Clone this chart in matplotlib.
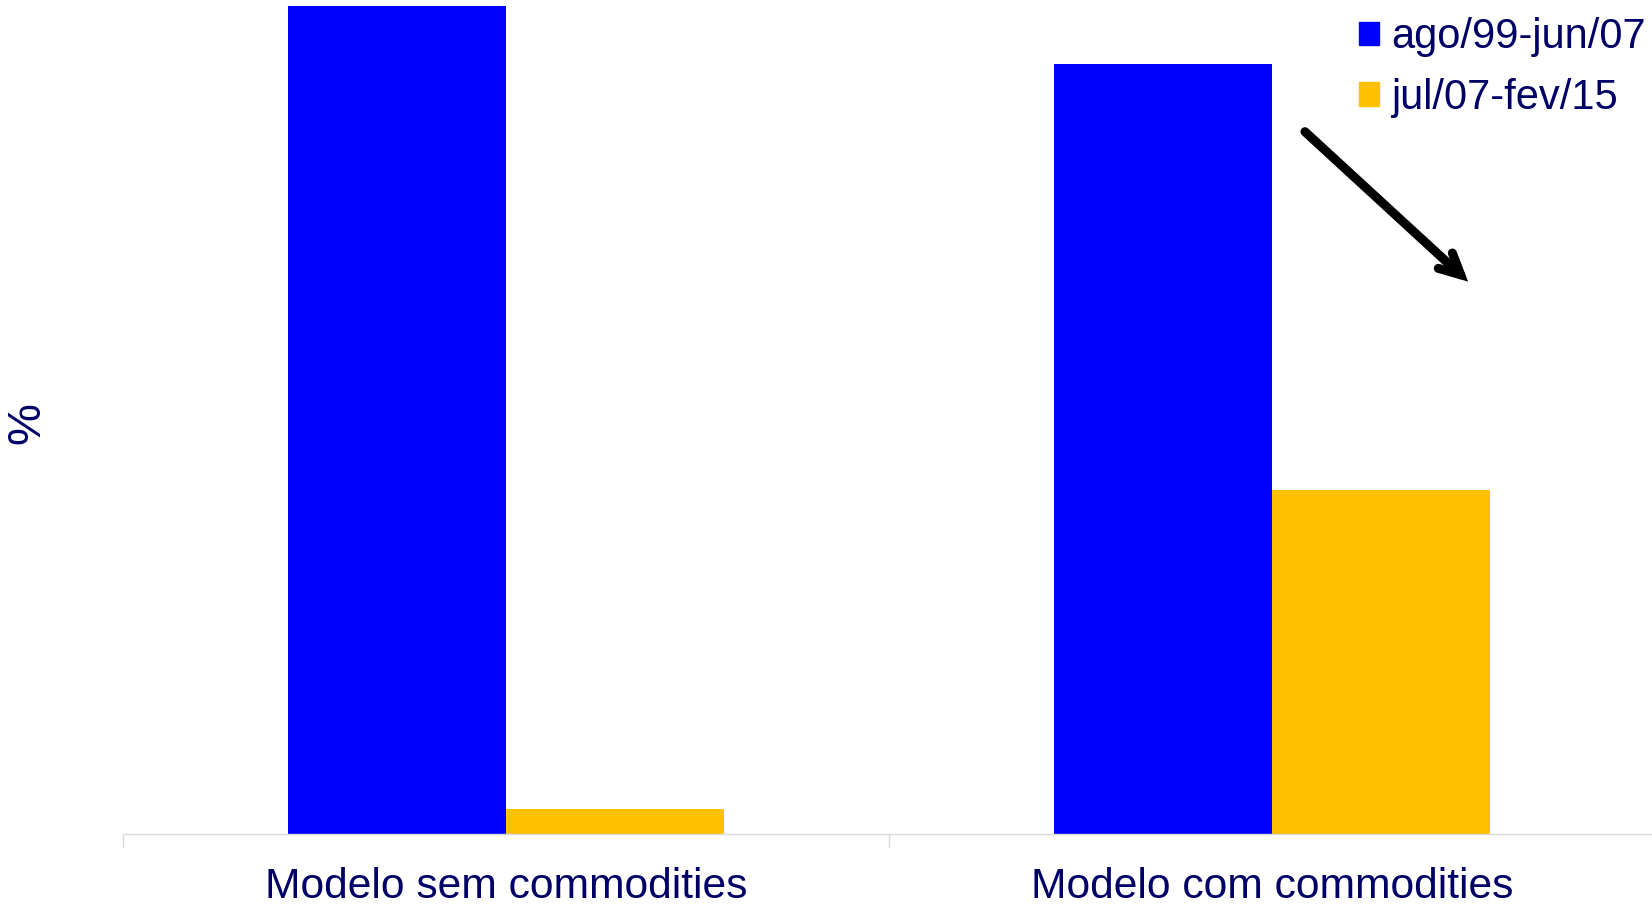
import matplotlib
matplotlib.use("Agg")
import matplotlib.pyplot as plt
import numpy as np
from matplotlib.patches import Patch

plt.rcParams["font.family"] = ["Liberation Sans", "DejaVu Sans"]

categories = ["Modelo sem commodities", "Modelo com commodities"]
periods = ["ago/99-jun/07", "jul/07-fev/15"]
before = [1.00, 0.93]   # ago/99-jun/07
after = [0.03, 0.415]   # jul/07-fev/15

navy = "#000066"
blue = "#0000FF"
gold = "#FFC000"

fig = plt.figure(figsize=(16.52, 9.08), dpi=100)
ax = fig.add_axes([123 / 1652, 74 / 908, 1532 / 1652, 834 / 908])

x = np.arange(len(categories))
w = 0.285
ax.bar(x - w / 2, before, w, color=blue, label=periods[0])
ax.bar(x + w / 2, after, w, color=gold, label=periods[1])

ax.set_xlim(-0.5, len(categories) - 0.5)
ax.set_ylim(0, 1.007)

for s in ["top", "right", "left"]:
    ax.spines[s].set_visible(False)
ax.spines["bottom"].set_color("#D9D9D9")
ax.spines["bottom"].set_linewidth(1)

ax.set_yticks([])
ax.set_xticks(x)
ax.set_xticklabels(categories, fontsize=30.7, color=navy)
ax.tick_params(axis="x", which="major", length=0, pad=24)
ax.set_xticks(np.arange(-0.5, len(categories)), minor=True)
ax.tick_params(axis="x", which="minor", length=9, color="#D9D9D9", width=1)

fig.text(27 / 1652, 1 - 423 / 908, "%", rotation=90, fontsize=34,
         color=navy, ha="center", va="center")

handles = [Patch(color=blue), Patch(color=gold)]
fig.legend(handles, periods, loc="upper left",
           bbox_to_anchor=(1359 / 1652, 1 - 17 / 908),
           frameon=False, fontsize=30, labelcolor=navy,
           handlelength=0.48, handleheight=0.48, handletextpad=0.3,
           labelspacing=0.5, borderpad=0, borderaxespad=0)

# downward arrow next to the second group
ax.annotate("", xy=(1.256, 0.667), xytext=(1.043, 0.848),
            arrowprops=dict(arrowstyle="->,head_length=1.5,head_width=0.75",
                            color="black", lw=6.5, shrinkA=0, shrinkB=0,
                            capstyle="round", joinstyle="miter"))

fig.savefig("out.png", dpi=100)
